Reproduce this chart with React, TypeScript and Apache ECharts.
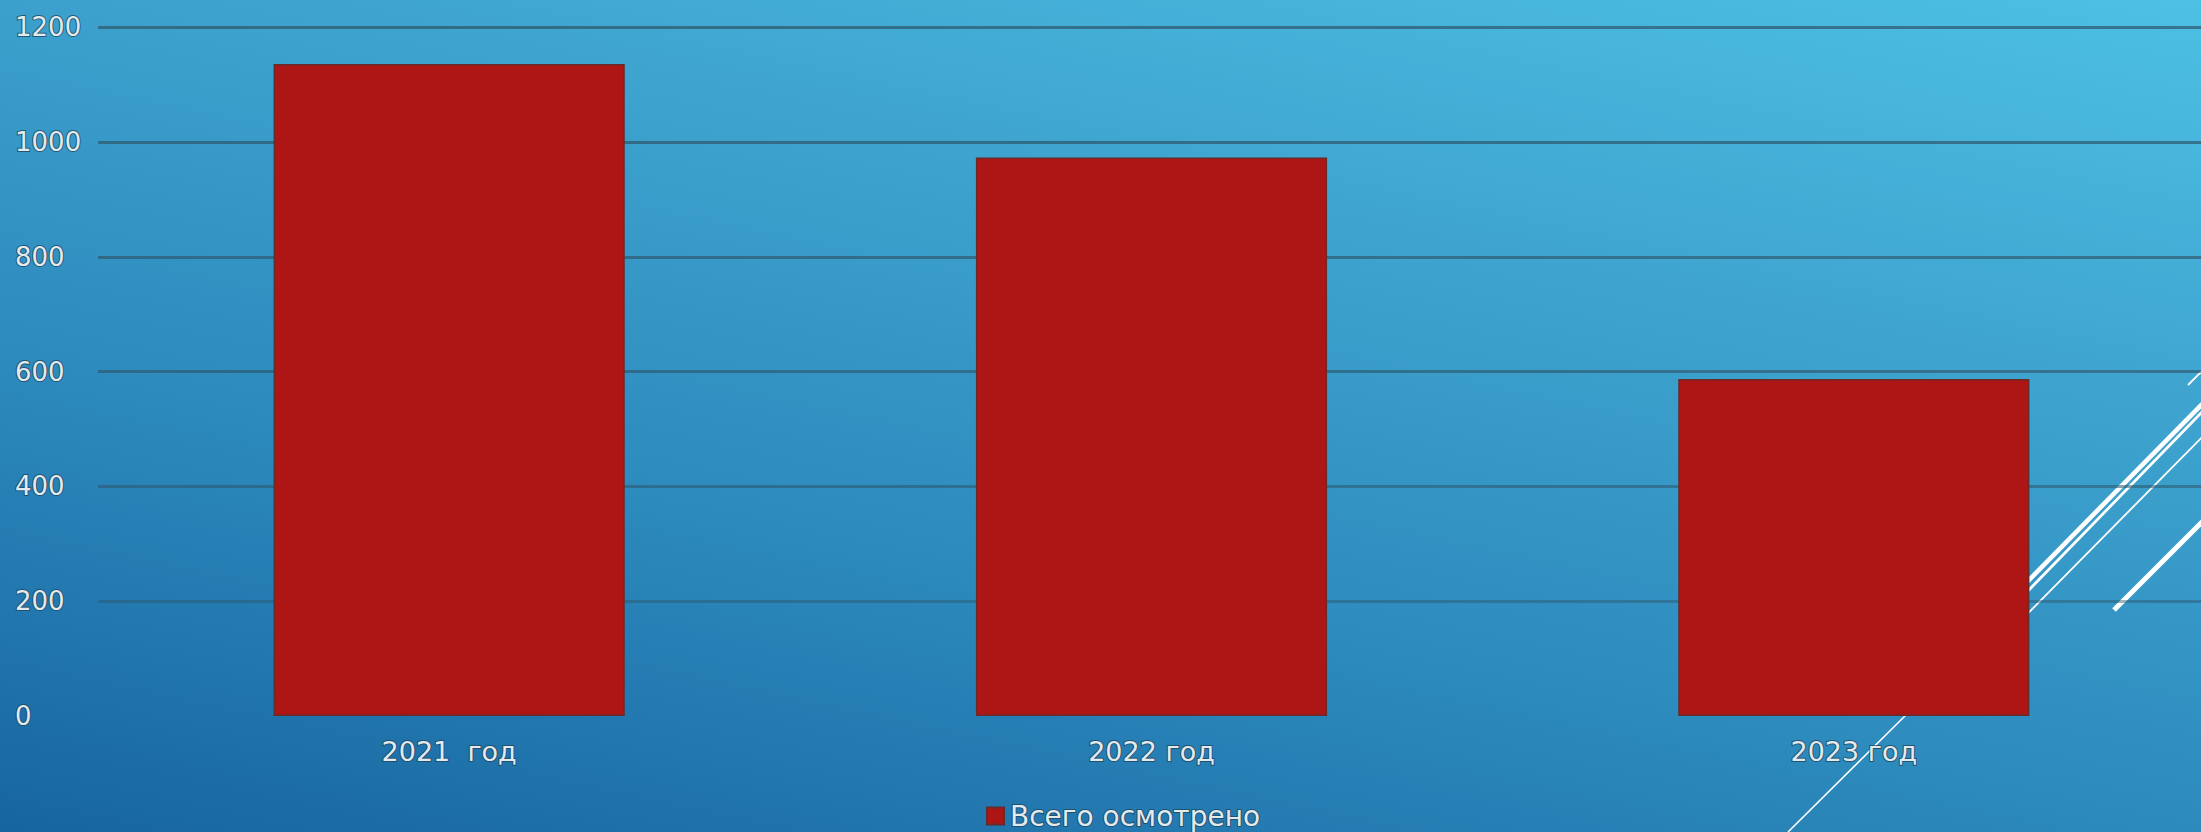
import React, { useEffect, useRef } from "react";
import * as echarts from "echarts";

const categories = ["2021  год", "2022 год", "2023 год"];
const seriesName = "Всего осмотрено";
const values = [1136, 973, 587];
const yTicks = [0, 200, 400, 600, 800, 1000, 1200];

const TEXT = "#e2eaee";
const TEXT_BORDER = "rgba(30,70,95,0.8)";
const GRID_COLORS = [
  "rgba(0,0,0,0)",
  "rgba(45,85,105,0.45)",
  "rgba(45,85,105,0.55)",
  "rgba(45,85,105,0.62)",
  "rgba(45,85,105,0.66)",
  "rgba(45,85,105,0.7)",
  "rgba(45,85,105,0.7)",
];

export default function App() {
  const ref = useRef<HTMLDivElement>(null);

  useEffect(() => {
    if (!ref.current) return;
    const chart = echarts.init(ref.current, null, { renderer: "svg" });
    const white = (x1: number, y1: number, x2: number, y2: number, w: number) => ({
      type: "line",
      z: 0,
      silent: true,
      shape: { x1, y1, x2, y2 },
      style: { stroke: "#ffffff", lineWidth: w },
    });
    chart.setOption({
      animation: false,
      backgroundColor: "transparent",
      textStyle: { fontFamily: "DejaVu Sans" },
      grid: {
        left: 98,
        right: -4,
        top: 27.3,
        bottom: 116,
        containLabel: false,
        outerBoundsMode: "none",
      },
      graphic: [
        white(1999, 610.5, 2215, 391, 4.6),
        white(2010, 609.5, 2215, 398.5, 2.8),
        white(2010, 631.5, 2215, 424, 1.8),
        white(2114, 610, 2215, 509, 5),
        white(2188, 385, 2215, 358, 1.8),
        white(1788, 832, 1915, 706, 1.6),
      ],
      legend: {
        show: true,
        left: 986,
        top: 801,
        padding: 0,
        itemWidth: 17,
        itemHeight: 17,
        itemGap: 10,
        icon: "rect",
        textStyle: {
          color: TEXT,
          fontSize: 28,
          fontFamily: "DejaVu Sans",
          textBorderColor: TEXT_BORDER,
          textBorderWidth: 2,
          padding: [0, 0, 0, 1],
        },
        data: [seriesName],
      },
      xAxis: {
        type: "category",
        data: categories,
        axisLine: { show: false },
        axisTick: { show: false },
        splitLine: { show: false },
        axisLabel: {
          color: TEXT,
          fontSize: 27,
          margin: 22,
          fontFamily: "DejaVu Sans",
          textBorderColor: TEXT_BORDER,
          textBorderWidth: 2,
        },
      },
      yAxis: {
        type: "value",
        min: yTicks[0],
        max: yTicks[yTicks.length - 1],
        interval: yTicks[1] - yTicks[0],
        axisLine: { show: false },
        axisTick: { show: false },
        splitLine: {
          show: true,
          lineStyle: { color: GRID_COLORS, width: 2.8, type: "solid" },
        },
        axisLabel: {
          color: TEXT,
          fontSize: 26,
          align: "left",
          margin: 83,
          fontFamily: "DejaVu Sans",
          textBorderColor: TEXT_BORDER,
          textBorderWidth: 2,
          formatter: (v: number) => String(v),
        },
      },
      series: [
        {
          name: seriesName,
          type: "bar",
          data: values,
          barWidth: "50%",
          z: 2,
          itemStyle: {
            color: "#ae1616",
            borderColor: "#6a2a2a",
            borderWidth: 1.5,
          },
          emphasis: { disabled: true },
        },
      ],
    });
    return () => chart.dispose();
  }, []);

  return (
    <div
      ref={ref}
      style={{
        position: "fixed",
        left: 0,
        top: 0,
        width: 2201,
        height: 832,
        background:
          "linear-gradient(192deg, #4dc0e4 0%, #3fa5d0 30%, #2c89bc 65%, #1765a0 100%)",
      }}
    />
  );
}
